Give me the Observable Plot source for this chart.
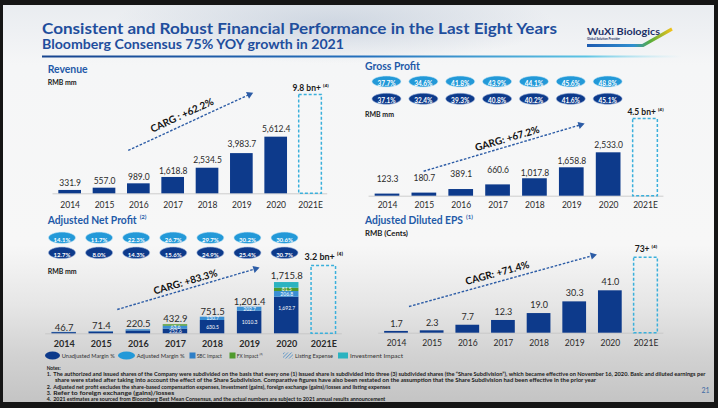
<!DOCTYPE html>
<html><head><meta charset="utf-8">
<script src="https://cdn.jsdelivr.net/npm/d3@7"></script>
<script src="https://cdn.jsdelivr.net/npm/@observablehq/plot@0.6"></script>
<style>
html,body{margin:0;padding:0}
body{width:718px;height:408px;overflow:hidden;background:#151515;position:relative;font-family:Lato,sans-serif}
#slide{position:absolute;left:3px;top:5px;width:711px;height:397px;
 background:
  radial-gradient(ellipse 220px 40px at 330px 18px, rgba(170,185,205,0.45), rgba(170,185,205,0) 100%),
  linear-gradient(to bottom,#e9ecf0 0px,#f5f6f7 60px,#f7f7f7 240px,#e6e6e6 300px,#d2d2d2 350px,#c4c4c4 397px);}
.chart{position:absolute}
</style>
</head><body>
<div id="slide"></div>
<svg id="deco" width="718" height="408" style="position:absolute;left:0;top:0" font-family="Lato, sans-serif">
 <defs>
  <linearGradient id="rule" x1="0" x2="1">
   <stop offset="0" stop-color="#17448f"/><stop offset="0.5" stop-color="#2470bd"/>
   <stop offset="0.85" stop-color="#5cc4e4"/><stop offset="1" stop-color="#a8e4f2" stop-opacity="0"/>
  </linearGradient>
  <linearGradient id="logoG" x1="0" x2="1">
   <stop offset="0" stop-color="#1d5bb0"/><stop offset="0.55" stop-color="#2f8fd0"/>
   <stop offset="0.75" stop-color="#5aae3a"/><stop offset="1" stop-color="#f2c21b"/>
  </linearGradient>
  <pattern id="hatch" width="2.5" height="2.5" patternUnits="userSpaceOnUse" patternTransform="rotate(45)">
   <line x1="0" y1="0" x2="0" y2="2.5" stroke="#2a7cc4" stroke-width="1"/>
  </pattern>
 </defs>
 <g id="header"></g>
</svg>
<script>
// ---------------- data ----------------
const years = [2014, 2015, 2016, 2017, 2018, 2019, 2020];
const tickYears = [2014, 2015, 2016, 2017, 2018, 2019, 2020, 2021];
const tickLabels = ["2014", "2015", "2016", "2017", "2018", "2019", "2020", "2021E"];

const revenue = [331.9, 557.0, 989.0, 1618.8, 2534.5, 3983.7, 5612.4];
const revenueLabels = ["331.9", "557.0", "989.0", "1,618.8", "2,534.5", "3,983.7", "5,612.4"];
const revenue2021E = 9800;
const revenue2021ELabel = "9.8 bn+ ⁽⁴⁾";
const revenueTrend = {x1: 2015.69, y1: 4293, x2: 2019.22, y2: 9846, tx: 2017.26, ty: 7764, text: "CARG : +62.2%", angle: 24.8};

const grossProfit = [123.3, 180.7, 389.1, 660.6, 1017.8, 1658.8, 2533.0];
const grossProfitLabels = ["123.3", "180.7", "389.1", "660.6", "1,017.8", "1,658.8", "2,533.0"];
const grossProfit2021E = 4500;
const grossProfit2021ELabel = "4.5 bn+ ⁽⁴⁾";
const gpAdjustedMargin = ["37.7%", "34.6%", "41.8%", "43.9%", "44.1%", "45.6%", "48.8%"];
const gpUnadjustedMargin = ["37.1%", "32.4%", "39.3%", "40.8%", "40.2%", "41.6%", "45.1%"];
const grossProfitTrend = {x1: 2014.98, y1: 1459, x2: 2019.24, y2: 4168, tx: 2017.25, ty: 3351, text: "GARG: +67.2%", angle: 16.5};

const netProfitTotals = ["46.7", "71.4", "220.5", "432.9", "751.5", "1,201.4", "1,715.8"];
const npUnadjustedPart = [40.0, 60.0, 95.0, 155.0, 445.0, 756.0, 1224.0];
const npSbcPart = [6.7, 11.4, 40.0, 100.0, 110.0, 134.0, 190.0];
const npFxPart = [0, 0, 0, 47.0, 0, 0, 110.0];
const npInvestmentPart = [0, 0, 0, 0, 0, 0, 190.0];
const npUnadjustedLabels = ["", "", "", "252.6", "630.5", "1010.3", "1,692.7"];
const npSbcLabels = ["", "", "", "63.6", "130.7", "202.7", "206.8"];
const npFxLabels = ["", "", "", "", "", "", "81.5"];
const netProfit2021E = 2270;
const netProfit2021ELabel = "3.2 bn+ ⁽⁴⁾";
const npAdjustedMargin = ["14.1%", "11.7%", "22.3%", "26.7%", "29.7%", "30.2%", "30.6%"];
const npUnadjustedMargin = ["12.7%", "8.0%", "14.3%", "15.6%", "24.9%", "25.4%", "30.7%"];
const netProfitTrend = {x1: 2015.43, y1: 813, x2: 2019.16, y2: 2174, tx: 2017.27, ty: 1726, text: "CARG: +83.3%", angle: 16.4};

const eps = [1.7, 2.3, 7.7, 12.3, 19.0, 30.3, 41.0];
const epsLabels = ["1.7", "2.3", "7.7", "12.3", "19.0", "30.3", "41.0"];
const eps2021E = 73;
const eps2021ELabel = "73+ ⁽⁴⁾";
const epsTrend = {x1: 2014.35, y1: 25.8, x2: 2019.51, y2: 75.1, tx: 2016.83, ty: 58, text: "CAGR: +71.4%", angle: 15.5};

// ---------------- styles ----------------
const NAVY = "#0d3a8b", LIGHT = "#2399d8", DASH = "#3ab0dc", ARROW = "#2c5ca6";
const SEG = {unadjusted: NAVY, sbc: "#3a8fd4", fx: "#4f9a2c", investment: "#2bb3c0"};

function ellipse(a, b) {
  const k = 0.5523;
  return {draw(ctx) {
    ctx.moveTo(a, 0);
    ctx.bezierCurveTo(a, k * b, k * a, b, 0, b);
    ctx.bezierCurveTo(-k * a, b, -a, k * b, -a, 0);
    ctx.bezierCurveTo(-a, -k * b, -k * a, -b, 0, -b);
    ctx.bezierCurveTo(k * a, -b, a, -k * b, a, 0);
    ctx.closePath();
  }};
}

function chart(c) {
  const k = (c.height - c.mB) / c.ymax;            // pixels per data unit (for pixel offsets of labels)
  const tops = years.map((y, i) => c.values ? c.values[i] : c.tops[i]);
  const rows = years.map((y, i) => ({year: y, value: tops[i], label: c.labels[i], ly: tops[i] - c.labelDy[i] / k}));
  const est = [{year: 2021, value: c.est, label: c.estLabel}];
  const t = [c.trend];
  const marks = [Plot.ruleY([0], {stroke: "#c3c3c3", strokeWidth: 0.8})];
  if (c.stack) {
    marks.push(Plot.rect(c.stack, {x1: d => d.year - c.halfW, x2: d => d.year + c.halfW, y1: "y1", y2: "y2", fill: "color"}));
    marks.push(Plot.text(c.stack.filter(d => d.label), {x: "year", y: d => (d.y1 + d.y2) / 2 + (d.seg === "unadjusted" && d.year === 2020 ? 7 / k : 0), text: "label", fill: "white", fontSize: 5}));
  } else {
    marks.push(Plot.rect(rows, {x1: d => d.year - c.halfW, x2: d => d.year + c.halfW, y1: 0, y2: "value", fill: NAVY}));
  }
  marks.push(
    Plot.text(rows, {x: "year", y: "ly", text: "label", fontSize: c.labelSize, fill: "#2a2a2a"}),
    Plot.rect(est, {x1: d => d.year - c.halfW, x2: d => d.year + c.halfW, y1: 0, y2: "value", fill: "none", stroke: DASH, strokeWidth: 1.5, strokeDasharray: "3,2"}),
    Plot.text(est, {x: "year", y: "value", text: "label", dy: c.estDy, fontSize: c.estSize, fontWeight: "bold", fill: "#1a1a1a"}),
    Plot.link(t, {x1: "x1", y1: "y1", x2: "x2", y2: "y2", stroke: ARROW, strokeWidth: 1.4, strokeDasharray: "2.6,1.6"}),
    Plot.dot(t, {x: "x2", y: "y2", symbol: "triangle", r: 2.7, fill: ARROW, rotate: 90 - c.trend.angle}),
    Plot.text(t, {x: "tx", y: "ty", text: "text", rotate: -c.trend.angle, fontSize: 10, fontWeight: "bold", fill: "#111"}),
    Plot.axisX(tickYears, {tickFormat: d => tickLabels[tickYears.indexOf(d)], tickSize: 0, tickPadding: c.tickPad, fontSize: c.yearSize, fontWeight: c.yearWeight, color: "#2a2a2a", label: null})
  );
  if (c.ovals) {
    const o = years.map((y, i) => ({year: y, adj: c.ovals.adj[i], unadj: c.ovals.unadj[i]}));
    const sym = ellipse(c.ovals.a, c.ovals.b);
    marks.push(
      Plot.dot(o, {x: "year", frameAnchor: "top", dy: c.ovals.dy1, dx: c.ovals.dx, r: 4, symbol: sym, fill: LIGHT, stroke: "#cfe9f7", strokeWidth: 0.6}),
      Plot.text(o, {x: "year", frameAnchor: "top", dy: c.ovals.dy1, dx: c.ovals.dx, text: "adj", fill: "white", fontSize: c.ovals.fs, fontWeight: "bold"}),
      Plot.dot(o, {x: "year", frameAnchor: "top", dy: c.ovals.dy2, dx: c.ovals.dx, r: 4, symbol: sym, fill: NAVY, stroke: "#9fb6dc", strokeWidth: 0.6}),
      Plot.text(o, {x: "year", frameAnchor: "top", dy: c.ovals.dy2, dx: c.ovals.dx, text: "unadj", fill: "white", fontSize: c.ovals.fs, fontWeight: "bold"})
    );
  }
  const svg = Plot.plot({
    width: c.width, height: c.height,
    marginLeft: c.mL, marginRight: c.mR, marginTop: 0, marginBottom: c.mB,
    x: {domain: [2013.5, 2021.5]},
    y: {domain: [0, c.ymax], axis: null},
    color: {type: "identity"},
    style: {background: "transparent", fontFamily: "Lato, sans-serif", overflow: "visible"},
    marks
  });
  const wrap = document.createElement("div");
  wrap.className = "chart";
  wrap.style.left = c.left + "px";
  wrap.style.top = c.top + "px";
  wrap.append(svg);
  document.body.append(wrap);
}

// stacked net profit rows (cumulative from the segment arrays)
const npStack = [];
years.forEach((y, i) => {
  let base = 0;
  [["unadjusted", npUnadjustedPart, npUnadjustedLabels], ["sbc", npSbcPart, npSbcLabels],
   ["fx", npFxPart, npFxLabels], ["investment", npInvestmentPart, null]].forEach(([seg, arr, lab]) => {
    if (arr[i] > 0) {
      npStack.push({year: y, seg, y1: base, y2: base + arr[i], color: SEG[seg], label: lab ? lab[i] : ""});
      base += arr[i];
    }
  });
});
const npTops = years.map((y, i) => npUnadjustedPart[i] + npSbcPart[i] + npFxPart[i] + npInvestmentPart[i]);

chart({left: 40, top: 78, width: 300, height: 138, mL: 12.5, mR: 12.8, mB: 22.7, ymax: 11427, halfW: 0.33,
  values: revenue, labels: revenueLabels, labelDy: [-7.3, -6.7, -6.6, -6.5, -7.5, -9, -7.7], labelSize: 8.5,
  est: revenue2021E, estLabel: revenue2021ELabel, estDy: -6.5, estSize: 8.5, trend: revenueTrend,
  tickPad: 8.3, yearSize: 8.5, yearWeight: "normal"});

chart({left: 360, top: 70, width: 340, height: 148, mL: 8.57, mR: 36.57, mB: 22.3, ymax: 7338, halfW: 0.335,
  values: grossProfit, labels: grossProfitLabels, labelDy: [-14.5, -15, -15.5, -15, -5.5, -6.5, -7.3], labelSize: 8.5,
  est: grossProfit2021E, estLabel: grossProfit2021ELabel, estDy: -6.5, estSize: 8.5, trend: grossProfitTrend,
  tickPad: 6.2, yearSize: 8.5, yearWeight: "normal",
  ovals: {adj: gpAdjustedMargin, unadj: gpUnadjustedMargin, dy1: 11, dy2: 28.3, dx: -1, a: 14.5, b: 5.5, fs: 6.5}});

chart({left: 40, top: 228, width: 310, height: 122, mL: 5.15, mR: 8.15, mB: 16.7, ymax: 3522, halfW: 0.33,
  stack: npStack, tops: npTops, labels: netProfitTotals, labelDy: [-4.5, -6, -6, -6, -5, -5.5, -7], labelSize: 9.5,
  est: netProfit2021E, estLabel: netProfit2021ELabel, estDy: -9, estSize: 9, trend: netProfitTrend,
  tickPad: 7.3, yearSize: 9, yearWeight: "bold",
  ovals: {adj: npAdjustedMargin, unadj: npUnadjustedMargin, dy1: 9.3, dy2: 24.3, dx: -2.2, a: 13.5, b: 5.7, fs: 6}});

chart({left: 360, top: 240, width: 340, height: 112, mL: 18.2, mR: 36.7, mB: 19.3, ymax: 89.65, halfW: 0.333,
  values: eps, labels: epsLabels, labelDy: [-7.5, -7.5, -8, -8, -8, -8.5, -8.6], labelSize: 9,
  est: eps2021E, estLabel: eps2021ELabel, estDy: -8, estSize: 8.5, trend: epsTrend,
  tickPad: 7.2, yearSize: 8.5, yearWeight: "normal"});

// ---------------- static slide text ----------------
const g = document.getElementById("header");
const NS = "http://www.w3.org/2000/svg";
function el(tag, attrs, txt, parent = g) {
  const e = document.createElementNS(NS, tag);
  for (const k in attrs) e.setAttribute(k, attrs[k]);
  if (txt != null) e.textContent = txt;
  parent.append(e);
  return e;
}
function txt(x, y, s, size, opts = {}) {
  const a = {x, y, "font-size": size, "font-weight": opts.w || "bold", fill: opts.fill || "#1a1a1a"};
  if (opts.len) { a.textLength = opts.len; a.lengthAdjust = "spacingAndGlyphs"; }
  return el("text", a, s);
}
function headerWithNote(x, y, s, note, len) {
  const t = el("text", {x, y, "font-size": 11, "font-weight": "bold", fill: BLUE});
  el("tspan", {textLength: len, lengthAdjust: "spacingAndGlyphs"}, s, t);
  el("tspan", {dx: 3, dy: -5, "font-size": 6}, note, t);
}
// title + rule
txt(42, 33.5, "Consistent and Robust Financial Performance in the Last Eight Years", 16, {fill: "#1f4e9d", len: 515});
txt(42, 48.5, "Bloomberg Consensus 75% YOY growth in 2021", 13, {fill: "#1f4e9d", len: 302});
el("rect", {x: 42, y: 55.5, width: 640, height: 2, fill: "url(#rule)"});
// logo
txt(587, 34.5, "WuXi Biologics", 10, {fill: "#1b2f66", len: 73});
txt(587, 40, "Global Solution Provider", 3.6, {fill: "#1b2f66", len: 33});
el("polyline", {points: "587,45.5 643,45.5 672,29", fill: "none", stroke: "url(#logoG)", "stroke-width": 3.2});
// chart headers
const BLUE = "#1f5aa8";
txt(47.7, 72.5, "Revenue", 11, {fill: BLUE, len: 40});
txt(47.7, 84.8, "RMB mm", 7, {len: 29});
txt(365, 69.5, "Gross Profit", 11, {fill: BLUE, len: 55});
txt(365, 116.8, "RMB mm", 7, {len: 29});
headerWithNote(47.7, 224, "Adjusted Net Profit", "(2)", 89);
txt(47.7, 273.5, "RMB mm", 7, {len: 29});
headerWithNote(365, 224, "Adjusted Diluted EPS", "(1)", 98);
txt(365, 235.8, "RMB (Cents)", 7, {len: 43});
// legend
const LY = 355.5;
el("ellipse", {cx: 52.5, cy: LY, rx: 7.5, ry: 4, fill: "#0d3a8b"});
txt(61.7, LY + 2, "Unadjusted Margin %", 6, {w: "normal", fill: "#333", len: 53});
el("ellipse", {cx: 126.5, cy: LY, rx: 8.5, ry: 4, fill: "#2399d8"});
txt(136.7, LY + 2, "Adjusted Margin %", 6, {w: "normal", fill: "#333", len: 48});
el("rect", {x: 189.5, y: LY - 3, width: 6, height: 6, fill: "#2f7fc6"});
txt(196.7, LY + 2, "SBC Impact", 6, {w: "normal", fill: "#333", len: 25});
el("rect", {x: 229.5, y: LY - 3, width: 6, height: 6, fill: "#4f9a2c"});
txt(236.7, LY + 2, "FX Impact ⁽³⁾", 6, {w: "normal", fill: "#333", len: 26});
el("rect", {x: 283, y: LY - 3, width: 10, height: 6, fill: "url(#hatch)"});
txt(295, LY + 2, "Listing Expense", 6, {w: "normal", fill: "#333", len: 38});
el("rect", {x: 338, y: LY - 3, width: 10, height: 6, fill: "#2bb3c0"});
txt(350, LY + 2, "Investment Impact", 6, {w: "normal", fill: "#333", len: 53});
// notes
txt(46.7, 370.2, "Notes:", 5.3, {len: 14});
const notes = [
  [46.7, 376.3, "1.", 53.3, "The authorized and issued shares of the Company were subdivided on the basis that every one (1) issued share is subdivided into three (3) subdivided shares (the \u201cShare Subdivision\u201d), which became effective on November 16, 2020. Basic and diluted earnings per", 652],
  [null, 382.4, "", 55, "share were stated after taking into account the effect of the Share Subdivision. Comparative figures have also been restated on the assumption that the Share Subdivision had been effective in the prior year", 541],
  [46.7, 388.5, "2.", 53.3, "Adjusted net profit excludes the share-based compensation expenses, investment (gains), foreign exchange (gains)/losses and listing expenses", 337],
  [46.7, 394.6, "3.", 53.3, "Refer to foreign exchange (gains)/losses", 121],
  [46.7, 400.7, "4.", 53.3, "2021 estimates are sourced from Bloomberg Best Mean Consensus, and the actual numbers are subject to 2021 annual results announcement", 332]
];
notes.forEach(([nx, y, n, tx, s, len]) => {
  if (nx != null) txt(nx, y, n, 5.3);
  txt(tx, y, s, 5.3, {len});
});
txt(701.5, 393, "21", 7, {w: "normal", fill: "#3d6aa5"});
</script>
</body></html>
